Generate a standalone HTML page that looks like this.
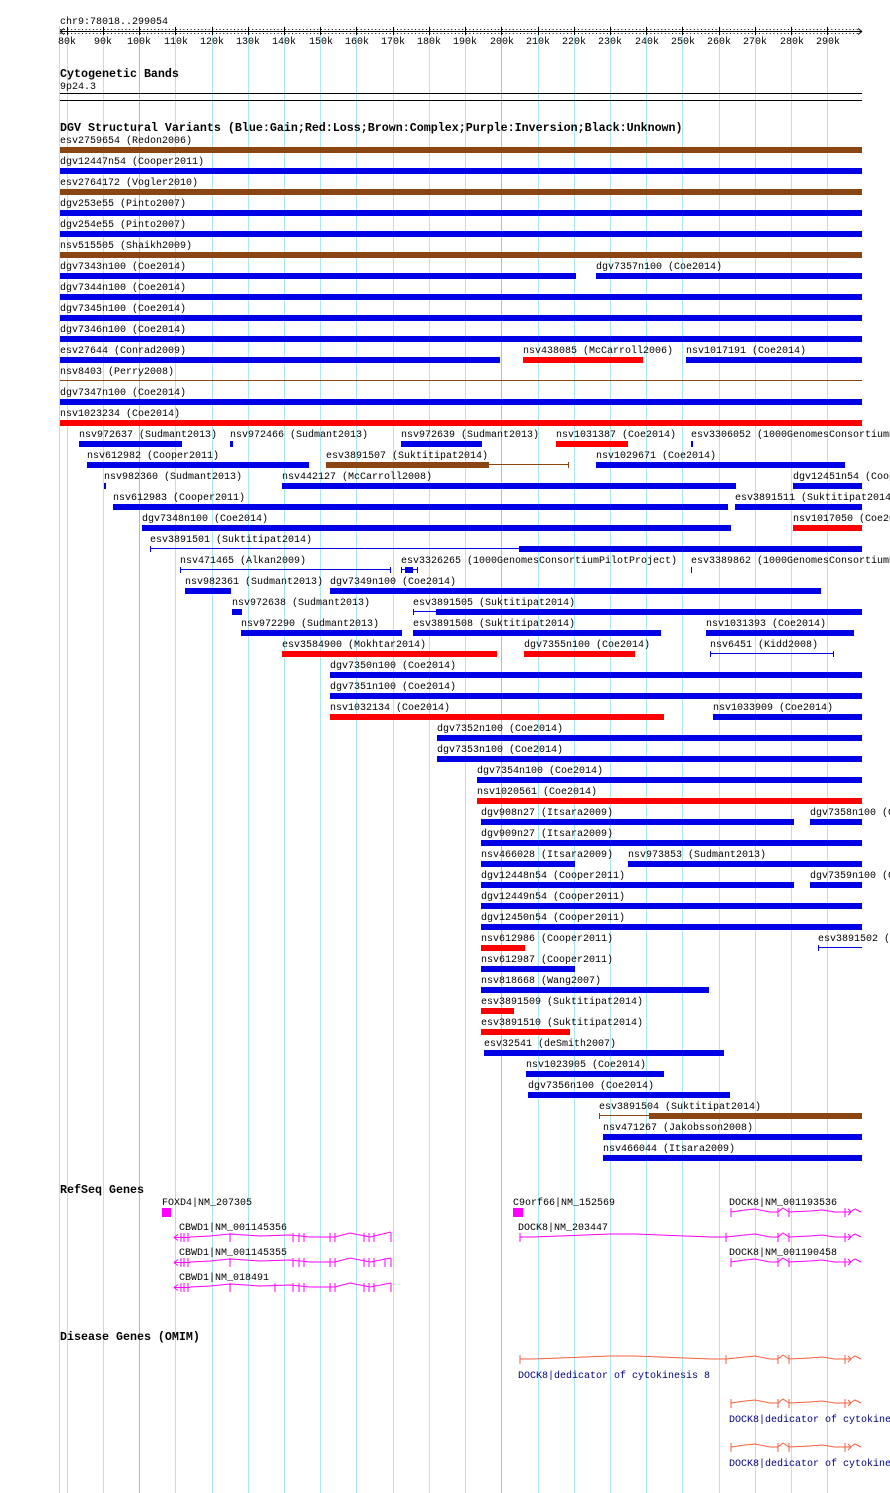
<!DOCTYPE html>
<html><head><meta charset="utf-8"><style>
html,body{margin:0;padding:0;background:#fff;}
svg{display:block;}
text{font-family:"Liberation Mono",monospace;font-size:10px;fill:#000;}
.b{font-weight:bold;font-size:11.67px;}
.g{stroke:#aee6ee;stroke-width:1;}
.gd{stroke:#8ccbe8;stroke-width:1;}
.bl{fill:#0000e6;}
.rd{fill:#ff0000;}
.br{fill:#8b4513;}
.mg{fill:#ff00ff;}
</style></head><body>
<svg width="890" height="1493" viewBox="0 0 890 1493" xmlns="http://www.w3.org/2000/svg">
<rect width="890" height="1493" fill="#fff"/>
<g>
<line class="g" x1="59.5" y1="26" x2="59.5" y2="1493"/>
<line class="g" x1="67.5" y1="26" x2="67.5" y2="1493"/>
<line class="g" x1="103.5" y1="26" x2="103.5" y2="1493"/>
<line class="gd" x1="139.5" y1="26" x2="139.5" y2="1493"/>
<line class="g" x1="175.5" y1="26" x2="175.5" y2="1493"/>
<line class="g" x1="212.5" y1="26" x2="212.5" y2="1493"/>
<line class="g" x1="248.5" y1="26" x2="248.5" y2="1493"/>
<line class="g" x1="284.5" y1="26" x2="284.5" y2="1493"/>
<line class="g" x1="320.5" y1="26" x2="320.5" y2="1493"/>
<line class="g" x1="356.5" y1="26" x2="356.5" y2="1493"/>
<line class="g" x1="393.5" y1="26" x2="393.5" y2="1493"/>
<line class="g" x1="429.5" y1="26" x2="429.5" y2="1493"/>
<line class="g" x1="465.5" y1="26" x2="465.5" y2="1493"/>
<line class="gd" x1="501.5" y1="26" x2="501.5" y2="1493"/>
<line class="g" x1="538.5" y1="26" x2="538.5" y2="1493"/>
<line class="g" x1="574.5" y1="26" x2="574.5" y2="1493"/>
<line class="g" x1="610.5" y1="26" x2="610.5" y2="1493"/>
<line class="g" x1="646.5" y1="26" x2="646.5" y2="1493"/>
<line class="g" x1="682.5" y1="26" x2="682.5" y2="1493"/>
<line class="g" x1="719.5" y1="26" x2="719.5" y2="1493"/>
<line class="g" x1="755.5" y1="26" x2="755.5" y2="1493"/>
<line class="g" x1="791.5" y1="26" x2="791.5" y2="1493"/>
<line class="g" x1="827.5" y1="26" x2="827.5" y2="1493"/>
</g>
<text x="60" y="24">chr9:78018..299054</text>
<line x1="60" y1="31.5" x2="862" y2="31.5" stroke="#000"/>
<path d="M60 31.5 l4 -3 M60 31.5 l4 3 M862 31.5 l-4 -3 M862 31.5 l-4 3" stroke="#000" fill="none"/>
<path stroke="#000" stroke-width="1" fill="none" d="
M67.5 27v8 M103.5 27v8 M139.5 27v8 M175.5 27v8 M212.5 27v8 M248.5 27v8 M284.5 27v8 M320.5 27v8 M356.5 27v8 M393.5 27v8 M429.5 27v8 M465.5 27v8 M501.5 27v8 M538.5 27v8 M574.5 27v8 M610.5 27v8 M646.5 27v8 M682.5 27v8 M719.5 27v8 M755.5 27v8 M791.5 27v8 M827.5 27v8"/>
<path stroke="#000" stroke-width="1" stroke-dasharray="1 2.62" fill="none" d="M60.3 29.5 H860 M60.3 33.5 H860"/>
<g text-anchor="middle">
<text x="67" y="44">80k</text><text x="103" y="44">90k</text><text x="139" y="44">100k</text><text x="176" y="44">110k</text><text x="212" y="44">120k</text><text x="248" y="44">130k</text><text x="284" y="44">140k</text><text x="321" y="44">150k</text><text x="357" y="44">160k</text><text x="393" y="44">170k</text><text x="429" y="44">180k</text><text x="465" y="44">190k</text><text x="502" y="44">200k</text><text x="538" y="44">210k</text><text x="574" y="44">220k</text><text x="610" y="44">230k</text><text x="647" y="44">240k</text><text x="683" y="44">250k</text><text x="719" y="44">260k</text><text x="755" y="44">270k</text><text x="792" y="44">280k</text><text x="828" y="44">290k</text>
</g>
<text class="b" x="60" y="77">Cytogenetic Bands</text>
<text x="60" y="89">9p24.3</text>
<line x1="60" y1="93.5" x2="862" y2="93.5" stroke="#000"/>
<line x1="60" y1="100.5" x2="862" y2="100.5" stroke="#000"/>
<text class="b" x="60" y="131">DGV Structural Variants (Blue:Gain;Red:Loss;Brown:Complex;Purple:Inversion;Black:Unknown)</text>

<g transform="translate(0,-1)">
<text x="60" y="144">esv2759654 (Redon2006)</text>
<text x="60" y="165">dgv12447n54 (Cooper2011)</text>
<text x="60" y="186">esv2764172 (Vogler2010)</text>
<text x="60" y="207">dgv253e55 (Pinto2007)</text>
<text x="60" y="228">dgv254e55 (Pinto2007)</text>
<text x="60" y="249">nsv515505 (Shaikh2009)</text>
<text x="60" y="270">dgv7343n100 (Coe2014)</text>
<text x="596" y="270">dgv7357n100 (Coe2014)</text>
<text x="60" y="291">dgv7344n100 (Coe2014)</text>
<text x="60" y="312">dgv7345n100 (Coe2014)</text>
<text x="60" y="333">dgv7346n100 (Coe2014)</text>
<text x="60" y="354">esv27644 (Conrad2009)</text>
<text x="523" y="354">nsv438085 (McCarroll2006)</text>
<text x="686" y="354">nsv1017191 (Coe2014)</text>
<text x="60" y="375">nsv8403 (Perry2008)</text>
<text x="60" y="396">dgv7347n100 (Coe2014)</text>
<text x="60" y="417">nsv1023234 (Coe2014)</text>
<text x="79" y="438">nsv972637 (Sudmant2013)</text>
<text x="230" y="438">nsv972466 (Sudmant2013)</text>
<text x="401" y="438">nsv972639 (Sudmant2013)</text>
<text x="556" y="438">nsv1031387 (Coe2014)</text>
<text x="691" y="438">esv3306052 (1000GenomesConsortiumPilotProject)</text>
<text x="87" y="459">nsv612982 (Cooper2011)</text>
<text x="326" y="459">esv3891507 (Suktitipat2014)</text>
<text x="596" y="459">nsv1029671 (Coe2014)</text>
<text x="104" y="480">nsv982360 (Sudmant2013)</text>
<text x="282" y="480">nsv442127 (McCarroll2008)</text>
<text x="793" y="480">dgv12451n54 (Cooper2011)</text>
<text x="113" y="501">nsv612983 (Cooper2011)</text>
<text x="735" y="501">esv3891511 (Suktitipat2014)</text>
<text x="142" y="522">dgv7348n100 (Coe2014)</text>
<text x="793" y="522">nsv1017050 (Coe2014)</text>
<text x="150" y="543">esv3891501 (Suktitipat2014)</text>
<text x="180" y="564">nsv471465 (Alkan2009)</text>
<text x="401" y="564">esv3326265 (1000GenomesConsortiumPilotProject)</text>
<text x="691" y="564">esv3389862 (1000GenomesConsortiumPilotProject)</text>
<text x="185" y="585">nsv982361 (Sudmant2013)</text>
<text x="330" y="585">dgv7349n100 (Coe2014)</text>
<text x="232" y="606">nsv972638 (Sudmant2013)</text>
<text x="413" y="606">esv3891505 (Suktitipat2014)</text>
<text x="241" y="627">nsv972290 (Sudmant2013)</text>
<text x="413" y="627">esv3891508 (Suktitipat2014)</text>
<text x="706" y="627">nsv1031393 (Coe2014)</text>
<text x="282" y="648">esv3584900 (Mokhtar2014)</text>
<text x="524" y="648">dgv7355n100 (Coe2014)</text>
<text x="710" y="648">nsv6451 (Kidd2008)</text>
<text x="330" y="669">dgv7350n100 (Coe2014)</text>
<text x="330" y="690">dgv7351n100 (Coe2014)</text>
<text x="330" y="711">nsv1032134 (Coe2014)</text>
<text x="713" y="711">nsv1033909 (Coe2014)</text>
<text x="437" y="732">dgv7352n100 (Coe2014)</text>
<text x="437" y="753">dgv7353n100 (Coe2014)</text>
<text x="477" y="774">dgv7354n100 (Coe2014)</text>
<text x="477" y="795">nsv1020561 (Coe2014)</text>
<text x="481" y="816">dgv908n27 (Itsara2009)</text>
<text x="810" y="816">dgv7358n100 (Coe2014)</text>
<text x="481" y="837">dgv909n27 (Itsara2009)</text>
<text x="481" y="858">nsv466028 (Itsara2009)</text>
<text x="628" y="858">nsv973853 (Sudmant2013)</text>
<text x="481" y="879">dgv12448n54 (Cooper2011)</text>
<text x="810" y="879">dgv7359n100 (Coe2014)</text>
<text x="481" y="900">dgv12449n54 (Cooper2011)</text>
<text x="481" y="921">dgv12450n54 (Cooper2011)</text>
<text x="481" y="942">nsv612986 (Cooper2011)</text>
<text x="818" y="942">esv3891502 (Suktitipat2014)</text>
<text x="481" y="963">nsv612987 (Cooper2011)</text>
<text x="481" y="984">nsv818668 (Wang2007)</text>
<text x="481" y="1005">esv3891509 (Suktitipat2014)</text>
<text x="481" y="1026">esv3891510 (Suktitipat2014)</text>
<text x="484" y="1047">esv32541 (deSmith2007)</text>
<text x="526" y="1068">nsv1023905 (Coe2014)</text>
<text x="528" y="1089">dgv7356n100 (Coe2014)</text>
<text x="599" y="1110">esv3891504 (Suktitipat2014)</text>
<text x="603" y="1131">nsv471267 (Jakobsson2008)</text>
<text x="603" y="1152">nsv466044 (Itsara2009)</text>
</g>

<rect class="br" x="60" y="147" width="802" height="6"/>
<rect class="bl" x="60" y="168" width="802" height="6"/>
<rect class="br" x="60" y="189" width="802" height="6"/>
<rect class="bl" x="60" y="210" width="802" height="6"/>
<rect class="bl" x="60" y="231" width="802" height="6"/>
<rect class="br" x="60" y="252" width="802" height="6"/>
<rect class="bl" x="60" y="273" width="516" height="6"/>
<rect class="bl" x="596" y="273" width="266" height="6"/>
<rect class="bl" x="60" y="294" width="802" height="6"/>
<rect class="bl" x="60" y="315" width="802" height="6"/>
<rect class="bl" x="60" y="336" width="802" height="6"/>
<rect class="bl" x="60" y="357" width="440" height="6"/>
<rect class="rd" x="523" y="357" width="120" height="6"/>
<rect class="bl" x="686" y="357" width="176" height="6"/>
<rect class="br" x="60" y="380" width="802" height="1"/>
<rect class="bl" x="60" y="399" width="802" height="6"/>
<rect class="rd" x="60" y="420" width="802" height="6"/>
<rect class="bl" x="79" y="441" width="103" height="6"/>
<rect class="bl" x="230" y="441" width="3" height="6"/>
<rect class="bl" x="401" y="441" width="81" height="6"/>
<rect class="rd" x="556" y="441" width="72" height="6"/>
<rect class="bl" x="691" y="441" width="2" height="6"/>
<rect class="bl" x="87" y="462" width="222" height="6"/>
<rect class="br" x="326" y="462" width="163" height="6"/><rect class="br" x="489" y="464" width="80" height="1"/><rect class="br" x="568" y="462" width="1" height="6"/>
<rect class="bl" x="596" y="462" width="249" height="6"/>
<rect class="bl" x="104" y="483" width="2" height="6"/>
<rect class="bl" x="282" y="483" width="454" height="6"/>
<rect class="bl" x="793" y="483" width="69" height="6"/>
<rect class="bl" x="113" y="504" width="615" height="6"/>
<rect class="bl" x="735" y="504" width="127" height="6"/>
<rect class="bl" x="142" y="525" width="589" height="6"/>
<rect class="rd" x="793" y="525" width="69" height="6"/>
<rect class="bl" x="150" y="546" width="1" height="6"/><rect class="bl" x="150" y="548" width="369" height="1"/><rect class="bl" x="519" y="546" width="343" height="6"/>
<rect class="bl" x="180" y="567" width="1" height="6"/><rect class="bl" x="180" y="569" width="211" height="1"/><rect class="bl" x="390" y="567" width="1" height="6"/>
<rect class="bl" x="401" y="567" width="1" height="6"/><rect class="bl" x="401" y="569" width="17" height="1"/><rect class="bl" x="405" y="567" width="8" height="6"/><rect class="bl" x="417" y="567" width="1" height="6"/>
<rect class="bl" x="691" y="567" width="1" height="6"/>
<rect class="bl" x="185" y="588" width="46" height="6"/>
<rect class="bl" x="330" y="588" width="491" height="6"/>
<rect class="bl" x="232" y="609" width="10" height="6"/>
<rect class="bl" x="413" y="609" width="1" height="6"/><rect class="bl" x="413" y="611" width="23" height="1"/><rect class="bl" x="436" y="609" width="426" height="6"/>
<rect class="bl" x="241" y="630" width="161" height="6"/>
<rect class="bl" x="413" y="630" width="248" height="6"/>
<rect class="bl" x="706" y="630" width="148" height="6"/>
<rect class="rd" x="282" y="651" width="215" height="6"/>
<rect class="rd" x="524" y="651" width="111" height="6"/>
<rect class="bl" x="710" y="651" width="1" height="6"/><rect class="bl" x="710" y="653" width="124" height="1"/><rect class="bl" x="833" y="651" width="1" height="6"/>
<rect class="bl" x="330" y="672" width="532" height="6"/>
<rect class="bl" x="330" y="693" width="532" height="6"/>
<rect class="rd" x="330" y="714" width="334" height="6"/>
<rect class="bl" x="713" y="714" width="149" height="6"/>
<rect class="bl" x="437" y="735" width="425" height="6"/>
<rect class="bl" x="437" y="756" width="425" height="6"/>
<rect class="bl" x="477" y="777" width="385" height="6"/>
<rect class="rd" x="477" y="798" width="385" height="6"/>
<rect class="bl" x="481" y="819" width="313" height="6"/>
<rect class="bl" x="810" y="819" width="52" height="6"/>
<rect class="bl" x="481" y="840" width="381" height="6"/>
<rect class="bl" x="481" y="861" width="94" height="6"/>
<rect class="bl" x="628" y="861" width="234" height="6"/>
<rect class="bl" x="481" y="882" width="313" height="6"/>
<rect class="bl" x="810" y="882" width="52" height="6"/>
<rect class="bl" x="481" y="903" width="381" height="6"/>
<rect class="bl" x="481" y="924" width="381" height="6"/>
<rect class="rd" x="481" y="945" width="44" height="6"/>
<rect class="bl" x="818" y="945" width="1" height="6"/><rect class="bl" x="818" y="947" width="44" height="1"/>
<rect class="bl" x="481" y="966" width="94" height="6"/>
<rect class="bl" x="481" y="987" width="228" height="6"/>
<rect class="rd" x="481" y="1008" width="33" height="6"/>
<rect class="rd" x="481" y="1029" width="89" height="6"/>
<rect class="bl" x="484" y="1050" width="240" height="6"/>
<rect class="bl" x="526" y="1071" width="138" height="6"/>
<rect class="bl" x="528" y="1092" width="202" height="6"/>
<rect class="br" x="599" y="1113" width="1" height="6"/><rect class="br" x="599" y="1115" width="50" height="1"/><rect class="br" x="649" y="1113" width="213" height="6"/>
<rect class="bl" x="603" y="1134" width="259" height="6"/>
<rect class="bl" x="603" y="1155" width="259" height="6"/>

<text class="b" x="60" y="1193">RefSeq Genes</text>
<text x="162" y="1205">FOXD4|NM_207305</text>
<rect class="mg" x="162" y="1208" width="9" height="9"/>
<text x="179" y="1230">CBWD1|NM_001145356</text>
<text x="179" y="1255">CBWD1|NM_001145355</text>
<text x="179" y="1280">CBWD1|NM_018491</text>
<g stroke="#ff00ff" fill="none" stroke-width="1">
<path d="M174 1237.5 H190 M174 1237.5 l4 -3 M174 1237.5 l4 3 M190 1237 L210 1236 L230 1234 L260 1236 L290 1235 L310 1237 L335 1237 L350 1233 L370 1237 L391 1232
M181 1233v9 M184 1233v9 M188 1233v9 M230 1233v9 M293 1233v9 M299 1233v9 M304 1233v9 M330 1233v9 M335 1233v9 M364 1233v9 M369 1233v9 M374 1233v9 M391 1233v9"/>
<path d="M174 1262.5 H190 M174 1262.5 l4 -3 M174 1262.5 l4 3 M190 1262 L210 1261 L230 1259 L260 1261 L290 1260 L310 1262 L335 1262 L350 1258 L370 1262 L391 1258
M181 1258v9 M184 1258v9 M188 1258v9 M230 1258v9 M293 1258v9 M299 1258v9 M304 1258v9 M330 1258v9 M335 1258v9 M364 1258v9 M369 1258v9 M374 1258v9 M385 1258v9 M391 1258v9"/>
<path d="M174 1287.5 H190 M174 1287.5 l4 -3 M174 1287.5 l4 3 M190 1287 L210 1286 L230 1284 L260 1286 L290 1285 L310 1287 L335 1287 L350 1283 L370 1287 L391 1283
M181 1283v9 M184 1283v9 M188 1283v9 M230 1283v9 M275 1283v9 M293 1283v9 M299 1283v9 M304 1283v9 M330 1283v9 M335 1283v9 M364 1283v9 M369 1283v9 M374 1283v9 M391 1283v9"/>
</g>
<text x="513" y="1205">C9orf66|NM_152569</text>
<rect class="mg" x="513" y="1208" width="10" height="9"/>
<text x="518" y="1230">DOCK8|NM_203447</text>
<text x="729" y="1205">DOCK8|NM_001193536</text>
<text x="729" y="1255">DOCK8|NM_001190458</text>
<g stroke="#ff00ff" fill="none" stroke-width="1">
<path d="M520 1233v9 M520 1237 H533 L560 1236 L585 1235 L610 1234 L635 1234 L660 1235 L685 1236 L712 1237 H726 M726 1233v9 M726 1237 L745 1235 L755 1234 L770 1237 L778 1237 M778 1233v9 M778 1237 L783 1233 L789 1237 M789 1233v9 M789 1237 L810 1236 L822 1235 L835 1237 L845 1237 M845 1233v9 M845 1237 L850 1237 M848 1234 l3 3 l-3 3 M850 1237 L855 1234 L861 1237"/>
<path d="M731 1208v9 M731 1212 L745 1210 L755 1209 L770 1212 L778 1212 M778 1208v9 M778 1212 L783 1208 L789 1212 M789 1208v9 M789 1212 L810 1211 L822 1210 L835 1212 L845 1212 M845 1208v9 M845 1212 L850 1212 M848 1209 l3 3 l-3 3 M850 1212 L855 1209 L861 1212"/>
<path d="M731 1258v9 M731 1262 L745 1260 L755 1259 L770 1262 L778 1262 M778 1258v9 M778 1262 L783 1258 L789 1262 M789 1258v9 M789 1262 L810 1261 L822 1260 L835 1262 L845 1262 M845 1258v9 M845 1262 L850 1262 M848 1259 l3 3 l-3 3 M850 1262 L855 1259 L861 1262"/>
</g>
<text class="b" x="60" y="1340">Disease Genes (OMIM)</text>
<g stroke="#f5603f" fill="none" stroke-width="1">
<path d="M520 1355v9 M520 1359 H533 L560 1358 L585 1357 L610 1356 L635 1356 L660 1357 L685 1358 L712 1359 H726 M726 1355v9 M726 1359 L745 1357 L755 1356 L770 1359 L778 1359 M778 1355v9 M778 1359 L783 1355 L789 1359 M789 1355v9 M789 1359 L810 1358 L822 1357 L835 1359 L845 1359 M845 1355v9 M845 1359 L850 1359 M848 1356 l3 3 l-3 3 M850 1359 L855 1356 L861 1359"/>
<path d="M731 1399v9 M731 1403 L745 1401 L755 1400 L770 1403 L778 1403 M778 1399v9 M778 1403 L783 1399 L789 1403 M789 1399v9 M789 1403 L810 1402 L822 1401 L835 1403 L845 1403 M845 1399v9 M845 1403 L850 1403 M848 1400 l3 3 l-3 3 M850 1403 L855 1400 L861 1403"/>
<path d="M731 1443v9 M731 1447 L745 1445 L755 1444 L770 1447 L778 1447 M778 1443v9 M778 1447 L783 1443 L789 1447 M789 1443v9 M789 1447 L810 1446 L822 1445 L835 1447 L845 1447 M845 1443v9 M845 1447 L850 1447 M848 1444 l3 3 l-3 3 M850 1447 L855 1444 L861 1447"/>
</g>
<text x="518" y="1378" style="fill:#000080">DOCK8|dedicator of cytokinesis 8</text>
<text x="729" y="1422" style="fill:#000080">DOCK8|dedicator of cytokinesis 8</text>
<text x="729" y="1466" style="fill:#000080">DOCK8|dedicator of cytokinesis 8</text>
</svg>
</body></html>
